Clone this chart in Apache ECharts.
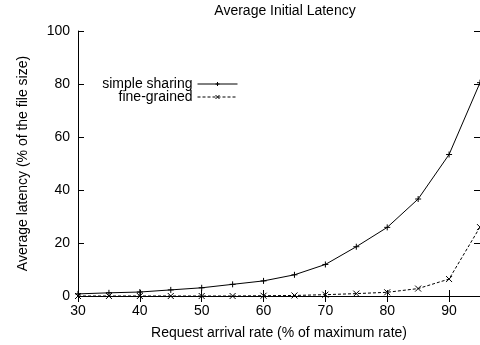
<!DOCTYPE html>
<html>
<head>
<meta charset="utf-8">
<script src="https://cdn.jsdelivr.net/npm/echarts@6/dist/echarts.min.js"></script>
<style>html,body{margin:0;padding:0;background:#fff;}#c{width:480px;height:345px;}</style>
</head>
<body>
<div id="c"></div>
<script>
var rates = [30, 35, 40, 45, 50, 55, 60, 65, 70, 75, 80, 85, 90, 95];
var simpleSharing = [0.8, 1.2, 1.5, 2.3, 3.1, 4.4, 5.7, 8.0, 11.9, 18.6, 25.9, 36.6, 53.4, 80.5];
var fineGrained = [0.0, 0.0, 0.0, 0.0, 0.0, 0.0, 0.1, 0.2, 0.5, 0.9, 1.4, 2.8, 6.4, 26.0];
var xTicks = {min: 30, max: 95, interval: 10};
var yTicks = {min: 0, max: 100, interval: 20};

var FONT = 'Liberation Sans, Arial, sans-serif';
var plusSym = 'path://M0,5L10,5M5,0L5,10';
var crossSym = 'path://M0,0L10,10M0,10L10,0';

function pairs(ys) { return rates.map(function (r, i) { return [r, ys[i]]; }); }

var chart = echarts.init(document.getElementById('c'), null, {renderer: 'canvas'});
var axisCommon = {
  axisLine: {show: true, lineStyle: {color: '#000', width: 1}},
  axisTick: {show: true, inside: true, length: 6, lineStyle: {color: '#000', width: 1}},
  splitLine: {show: false}
};
var legendCommon = {
  right: 237, align: 'right', itemWidth: 40, itemHeight: 5, selectedMode: false,
  textStyle: {fontFamily: FONT, fontSize: 14, color: '#000'},
  lineStyle: {width: 1},
  itemStyle: {borderWidth: 1}
};
chart.setOption({
  animation: false,
  backgroundColor: '#fff',
  title: {
    text: 'Average Initial Latency', left: 280, top: -1, textAlign: 'center',
    textStyle: {fontFamily: FONT, fontSize: 14, fontWeight: 'normal', color: '#000'}
  },
  legend: [
    Object.assign({}, legendCommon, {data: ['simple sharing'], top: 72}),
    Object.assign({}, legendCommon, {data: ['fine-grained'], top: 85})
  ],
  grid: {left: 78, top: 31, width: 404, height: 265, containLabel: false},
  xAxis: [
    Object.assign({}, axisCommon, {
      type: 'value', position: 'bottom', min: xTicks.min, max: xTicks.max, interval: xTicks.interval,
      name: 'Request arrival rate (% of maximum rate)', nameLocation: 'middle', nameGap: 30,
      nameTextStyle: {fontFamily: FONT, fontSize: 14, color: '#000'},
      axisLabel: {fontFamily: FONT, fontSize: 14, color: '#000', margin: 8, showMaxLabel: false}
    }),
    Object.assign({}, axisCommon, {
      type: 'value', position: 'top', min: xTicks.min, max: xTicks.max, interval: xTicks.interval,
      axisLabel: {show: false}
    })
  ],
  yAxis: [
    Object.assign({}, axisCommon, {
      type: 'value', position: 'left', min: yTicks.min, max: yTicks.max, interval: yTicks.interval,
      name: 'Average latency (% of the file size)', nameLocation: 'middle', nameGap: 48,
      nameTextStyle: {fontFamily: FONT, fontSize: 14, color: '#000'},
      axisLabel: {fontFamily: FONT, fontSize: 14, color: '#000', margin: 8}
    }),
    Object.assign({}, axisCommon, {
      type: 'value', position: 'right', min: yTicks.min, max: yTicks.max, interval: yTicks.interval,
      axisLabel: {show: false}
    })
  ],
  series: [
    {
      name: 'simple sharing', type: 'line', data: pairs(simpleSharing),
      symbol: plusSym, symbolSize: 6, showSymbol: true,
      lineStyle: {color: '#000', width: 1, type: 'solid'},
      itemStyle: {color: '#000', borderColor: '#000', borderWidth: 1},
      z: 3
    },
    {
      name: 'fine-grained', type: 'line', data: pairs(fineGrained),
      symbol: crossSym, symbolSize: 6, showSymbol: true,
      lineStyle: {color: '#000', width: 1, type: [3, 2]},
      itemStyle: {color: '#000', borderColor: '#000', borderWidth: 1},
      z: 3
    }
  ]
});
</script>
</body>
</html>
